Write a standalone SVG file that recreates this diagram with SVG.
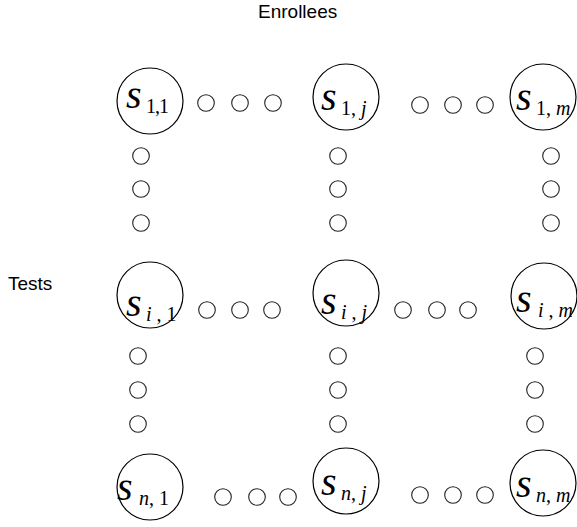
<svg xmlns="http://www.w3.org/2000/svg" width="577" height="527" viewBox="0 0 577 527">
<style>
.big{fill:#fff;stroke:#000;stroke-width:1.2}
.dot{fill:none;stroke:#222;stroke-width:1.1}
.s{font-family:"Liberation Serif","Times New Roman",serif;font-style:italic;font-size:40px;fill:#000}
.sub{font-family:"Liberation Serif","Times New Roman",serif;font-style:normal;font-size:20px;fill:#000}
.it{font-style:italic}
.lab{font-family:"Liberation Sans",Arial,sans-serif;font-size:19px;fill:#000}
</style>
<rect width="577" height="527" fill="#fff"/>
<text class="lab" x="258" y="18">Enrollees</text>
<text class="lab" x="8" y="290">Tests</text>
<g id="connectors">
<circle class="dot" cx="206" cy="103" r="8.3"/><circle class="dot" cx="240" cy="103" r="8.3"/><circle class="dot" cx="273" cy="103" r="8.3"/>
<circle class="dot" cx="420" cy="105" r="8.3"/><circle class="dot" cx="453" cy="105" r="8.3"/><circle class="dot" cx="485" cy="105" r="8.3"/>
<circle class="dot" cx="141" cy="156" r="8.3"/><circle class="dot" cx="141" cy="189" r="8.3"/><circle class="dot" cx="141" cy="223" r="8.3"/>
<circle class="dot" cx="338" cy="156" r="8.3"/><circle class="dot" cx="338" cy="189" r="8.3"/><circle class="dot" cx="338" cy="223" r="8.3"/>
<circle class="dot" cx="551" cy="156" r="8.3"/><circle class="dot" cx="551" cy="189" r="8.3"/><circle class="dot" cx="551" cy="223" r="8.3"/>
<circle class="dot" cx="207" cy="310" r="8.3"/><circle class="dot" cx="240" cy="310" r="8.3" stroke-width="1.6"/><circle class="dot" cx="272" cy="310" r="8.3" stroke-width="1.6"/>
<circle class="dot" cx="403" cy="310" r="8.3"/><circle class="dot" cx="437" cy="310" r="8.3"/><circle class="dot" cx="468" cy="310" r="8.3"/>
<circle class="dot" cx="138" cy="356" r="8.3"/><circle class="dot" cx="138" cy="390" r="8.3"/><circle class="dot" cx="138" cy="424" r="8.3"/>
<circle class="dot" cx="338" cy="356" r="8.3"/><circle class="dot" cx="338" cy="390" r="8.3"/><circle class="dot" cx="338" cy="424" r="8.3"/>
<circle class="dot" cx="535" cy="356" r="8.3"/><circle class="dot" cx="535" cy="390" r="8.3"/><circle class="dot" cx="535" cy="424" r="8.3"/>
<circle class="dot" cx="223" cy="497" r="8.3"/><circle class="dot" cx="257" cy="497" r="8.3"/><circle class="dot" cx="288" cy="497" r="8.3"/>
<circle class="dot" cx="420" cy="495" r="8.3"/><circle class="dot" cx="453" cy="495" r="8.3"/><circle class="dot" cx="485" cy="495" r="8.3"/>
</g>
<g id="s11"><circle class="big" cx="150" cy="101" r="33"/><text class="s" x="126" y="108">s</text><text class="sub" x="146" y="113" letter-spacing="-1">1,1</text></g>
<g id="s1j"><circle class="big" cx="346" cy="97" r="33"/><text class="s" x="321" y="110">s</text><text class="sub" x="341" y="115">1, <tspan class="it">j</tspan></text></g>
<g id="s1m"><circle class="big" cx="543" cy="97" r="33"/><text class="s" x="516" y="110">s</text><text class="sub" x="536" y="115">1, <tspan class="it">m</tspan></text></g>
<g id="si1"><circle class="big" cx="150" cy="295" r="33"/><text class="s" x="126" y="316">s</text><text class="sub" x="146" y="321"><tspan class="it">i</tspan> , 1</text></g>
<g id="sij"><circle class="big" cx="346" cy="293" r="33"/><text class="s" x="321" y="314">s</text><text class="sub" x="341" y="319"><tspan class="it">i</tspan> , <tspan class="it">j</tspan></text></g>
<g id="sim"><circle class="big" cx="544" cy="296" r="33"/><text class="s" x="516" y="312">s</text><text class="sub" x="538" y="317"><tspan class="it">i</tspan> , <tspan class="it">m</tspan></text></g>
<g id="sn1"><circle class="big" cx="150" cy="487" r="33"/><text class="s" x="117" y="500">s</text><text class="sub" x="139" y="505"><tspan class="it">n</tspan>, 1</text></g>
<g id="snj"><circle class="big" cx="346" cy="481" r="33"/><text class="s" x="321" y="495">s</text><text class="sub" x="341" y="500"><tspan class="it">n</tspan>, <tspan class="it">j</tspan></text></g>
<g id="snm"><circle class="big" cx="543" cy="483" r="33"/><text class="s" x="516" y="497">s</text><text class="sub" x="536" y="502"><tspan class="it">n</tspan>, <tspan class="it">m</tspan></text></g>
</svg>
